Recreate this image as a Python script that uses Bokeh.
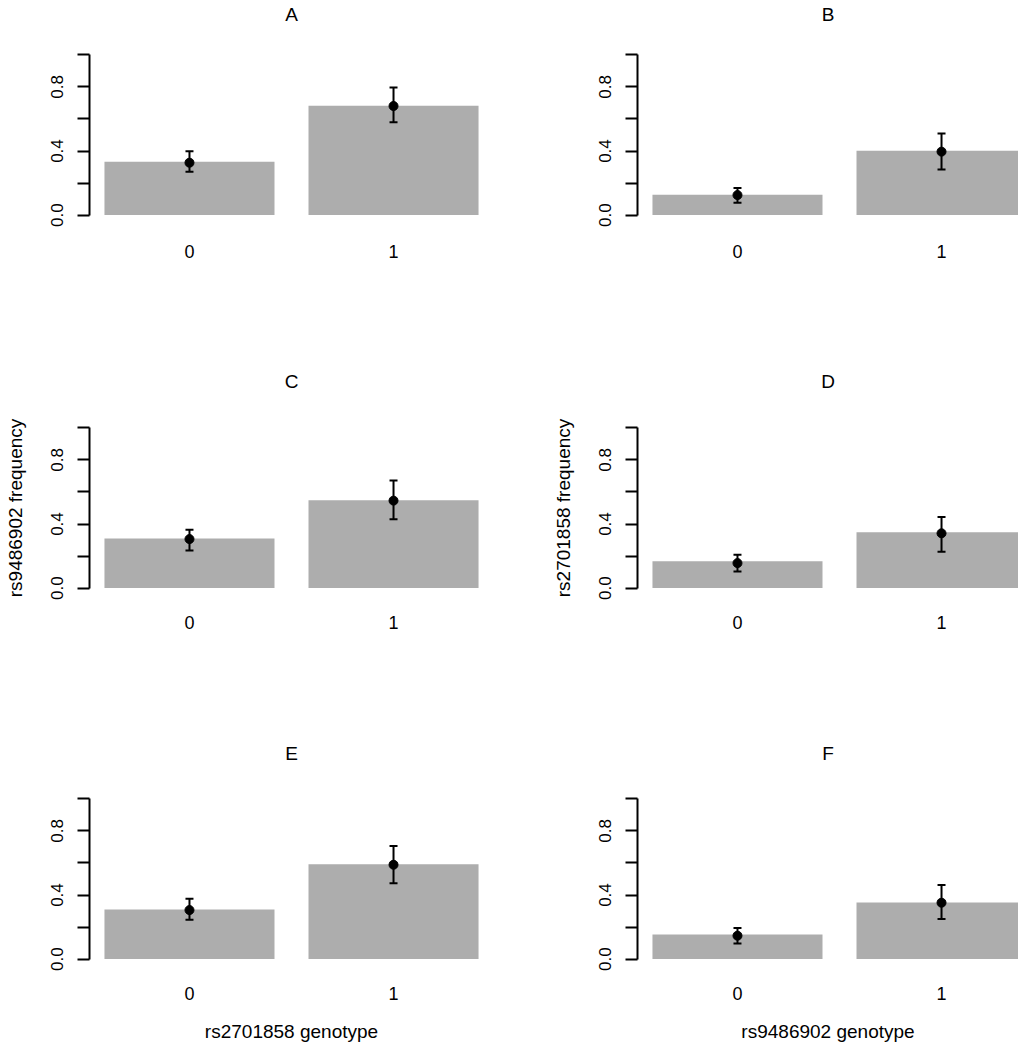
from bokeh.plotting import figure
from bokeh.models import (Range1d, FixedTicker, NumeralTickFormatter, ColumnDataSource,
                          Whisker, TeeHead, LinearAxis)
from bokeh.layouts import column, row
from bokeh.embed import file_html
from bokeh.resources import INLINE

# ---------------- data ----------------
genotype = ["0", "1"]
panel_titles = ["A", "B", "C", "D", "E", "F"]

bar_A = [0.333, 0.683]; pt_A = [0.327, 0.681]; lo_A = [0.271, 0.579]; hi_A = [0.398, 0.796]
bar_B = [0.127, 0.402]; pt_B = [0.125, 0.396]; lo_B = [0.077, 0.285]; hi_B = [0.169, 0.510]
bar_C = [0.310, 0.548]; pt_C = [0.306, 0.546]; lo_C = [0.235, 0.429]; hi_C = [0.365, 0.671]
bar_D = [0.167, 0.348]; pt_D = [0.156, 0.342]; lo_D = [0.104, 0.227]; hi_D = [0.208, 0.444]
bar_E = [0.310, 0.592]; pt_E = [0.306, 0.589]; lo_E = [0.246, 0.473]; hi_E = [0.377, 0.706]
bar_F = [0.154, 0.354]; pt_F = [0.146, 0.352]; lo_F = [0.098, 0.250]; hi_F = [0.194, 0.463]

y_labels = {"C": "rs9486902 frequency", "D": "rs2701858 frequency"}
x_labels = {"E": "rs2701858 genotype", "F": "rs9486902 genotype"}

y_ticks = [0.0, 0.4, 0.8]
y_minor = [0.2, 0.6, 1.0]

series = {
    "A": (bar_A, pt_A, lo_A, hi_A), "B": (bar_B, pt_B, lo_B, hi_B),
    "C": (bar_C, pt_C, lo_C, hi_C), "D": (bar_D, pt_D, lo_D, hi_D),
    "E": (bar_E, pt_E, lo_E, hi_E), "F": (bar_F, pt_F, lo_F, hi_F),
}

# ---------------- layout (R barplot style) ----------------
BAR_W, SPACE = 1.0, 0.2
centers = [SPACE + BAR_W / 2 + i * (BAR_W + SPACE) for i in range(len(genotype))]
x_lo = SPACE
x_hi = len(genotype) * (BAR_W + SPACE)
pad = 0.04 * (x_hi - x_lo)
XMIN, XMAX_FULL = x_lo - pad, x_hi + pad
XMID = (XMIN + XMAX_FULL) / 2
LABEL_BOUNDS = (XMID - 1.0, XMID + 1.0)   # centres titles / x labels on the full R region

FRAME_H = 173
LEFT_FW, RIGHT_FW = 404, 381
PX_PER_UNIT = LEFT_FW / (XMAX_FULL - XMIN)

row_borders = [(47, 110), (90, 107), (91, 78)]
title_standoff = [24, 30, 29]
xtick_standoff = [23, 21, 21]
col_borders = [(89, 47), (97, 0)]
col_fw = [LEFT_FW, RIGHT_FW]

FONT = "Liberation Sans"
GRAY = "#ADADAD"


def make_panel(name, r, c):
    bars, pts, lo, hi = series[name]
    fw = col_fw[c]
    xmax = XMIN + fw / PX_PER_UNIT
    p = figure(frame_width=fw, frame_height=FRAME_H,
               min_border_left=col_borders[c][0], min_border_right=col_borders[c][1],
               min_border_top=row_borders[r][0], min_border_bottom=row_borders[r][1],
               x_range=Range1d(XMIN, xmax), y_range=Range1d(-0.04, 1.04),
               output_backend="svg", toolbar_location=None,
               outline_line_color=None, background_fill_color="white",
               border_fill_color="white")
    p.grid.visible = False

    src = ColumnDataSource(dict(x=centers, top=bars, pt=pts, lo=lo, hi=hi))
    p.vbar(x="x", top="top", bottom=0, width=BAR_W, source=src,
           fill_color=GRAY, line_color=None)
    p.scatter(x="x", y="pt", source=src, size=9, color="black")
    w = Whisker(base="x", upper="hi", lower="lo", source=src, line_width=2,
                line_color="black", level="overlay",
                upper_head=TeeHead(size=8, line_width=2, line_color="black"),
                lower_head=TeeHead(size=8, line_width=2, line_color="black"))
    p.add_layout(w)

    # x axis: labels only
    xa = p.xaxis[0]
    xa.ticker = FixedTicker(ticks=centers)
    xa.major_label_overrides = {cx: g for cx, g in zip(centers, genotype)}
    xa.bounds = LABEL_BOUNDS
    xa.axis_line_color = None
    xa.major_tick_line_color = None
    xa.minor_tick_line_color = None
    xa.major_tick_out = 0
    xa.major_tick_in = 0
    xa.major_label_standoff = xtick_standoff[r]
    xa.major_label_text_font = FONT
    xa.major_label_text_font_size = "18px"
    xa.major_label_text_color = "black"
    if name in x_labels:
        xa.axis_label = x_labels[name]
        xa.axis_label_standoff = 18
        xa.axis_label_text_font = FONT
        xa.axis_label_text_font_size = "19px"
        xa.axis_label_text_font_style = "normal"
        xa.axis_label_text_color = "black"

    # panel title as a label-only axis above the frame
    ta = LinearAxis(ticker=FixedTicker(ticks=[]), bounds=LABEL_BOUNDS,
                    axis_line_color=None, major_tick_line_color=None,
                    minor_tick_line_color=None, major_tick_out=0, major_tick_in=0,
                    minor_tick_out=0, minor_tick_in=0, major_label_standoff=0,
                    axis_label=name, axis_label_standoff=title_standoff[r],
                    axis_label_text_font=FONT, axis_label_text_font_size="19px",
                    axis_label_text_font_style="normal", axis_label_text_color="black")
    p.add_layout(ta, "above")

    # y axis
    ya = p.yaxis[0]
    ya.ticker = FixedTicker(ticks=y_ticks, minor_ticks=y_minor)
    ya.formatter = NumeralTickFormatter(format="0.0")
    ya.bounds = (0, 1)
    ya.axis_line_width = 2
    ya.axis_line_color = "black"
    ya.major_tick_out = 12
    ya.major_tick_in = 0
    ya.minor_tick_out = 12
    ya.minor_tick_in = 0
    ya.major_tick_line_width = 2
    ya.minor_tick_line_width = 2
    ya.major_tick_line_color = "black"
    ya.minor_tick_line_color = "black"
    ya.major_label_orientation = "vertical"
    ya.major_label_standoff = 14
    ya.major_label_text_font = FONT
    ya.major_label_text_font_size = "17px"
    ya.major_label_text_color = "black"
    if name in y_labels:
        ya.axis_label = y_labels[name]
        ya.axis_label_standoff = 23
        ya.axis_label_text_font = FONT
        ya.axis_label_text_font_size = "19px"
        ya.axis_label_text_font_style = "normal"
        ya.axis_label_text_color = "black"
    return p


rows = []
for r in range(3):
    figs = [make_panel(panel_titles[2 * r + c], r, c) for c in range(2)]
    rows.append(row(*figs))
layout = column(*rows)

open("out.html", "w").write(file_html(layout, INLINE))
